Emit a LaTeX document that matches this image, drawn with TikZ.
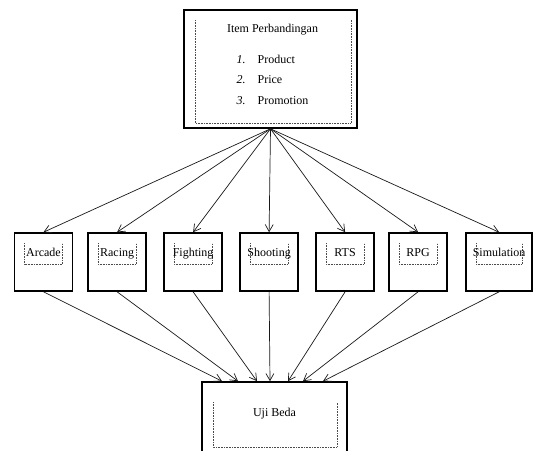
\documentclass[tikz,border=0pt]{standalone}
\usepackage{fontspec}
\setmainfont{Liberation Serif}
\usetikzlibrary{arrows.meta,positioning}

\tikzset{
  dotbox/.style n args={4}{path picture={
      \draw[black!70,densely dotted,line width=0.6pt]
        ([xshift=#1pt,yshift=-#3pt]path picture bounding box.north west) |-
        ([xshift=-#2pt,yshift=#4pt]path picture bounding box.south east) --
        ([xshift=-#2pt,yshift=-#3pt]path picture bounding box.north east);}},
  box/.style={draw,line width=1.6pt,inner sep=0pt,text height=9pt},
  catbox/.style={box,minimum width=58pt,minimum height=58pt,text depth=20pt,
    dotbox={10}{10}{10}{27}},
}

\begin{document}
\begin{tikzpicture}[x=1pt,y=-1pt,>={Straight Barb[length=7pt,width=8pt]},
    font=\fontsize{12}{14.5}\selectfont]
    \clip (0,0) rectangle (535,450);

    \node[box,minimum width=173pt,minimum height=118pt,dotbox={11}{6}{10}{5}] (items) at (270.5,69) {};
    \node[below=15pt of items.north,xshift=2pt,inner sep=0pt,align=center] (itemtext)
      {Item Perbandingan\\[17pt]
       \begin{tabular}{@{}l@{\hspace{12pt}}l@{}}
         \textit{1.} & Product\\[6pt]
         \textit{2.} & Price\\[6pt]
         \textit{3.} & Promotion
       \end{tabular}};

    \node[catbox] (arcade) at (43.5,262) {Arcade};
    \node[catbox] (racing) [right=14pt of arcade] {Racing};
    \node[catbox] (fighting) [right=16.4pt of racing] {Fighting};
    \node[catbox] (shooting) [right=16.4pt of fighting] {Shooting};
    \node[catbox] (rts) [right=16.4pt of shooting] {RTS};
    \node[catbox] (rpg) [right=13.4pt of rts] {RPG};
    \node[catbox,minimum width=66pt] (simulation) [right=17.4pt of rpg] {Simulation};

    \node[box,minimum width=145pt,minimum height=75pt,text depth=16pt,
      dotbox={11}{10}{20}{10}] (uji) at (274.5,419.5) {Uji Beda};

    \path[->,line width=0.7pt,black!90]
    (items.south) edge (arcade.north)
    (items.south) edge (racing.north)
    (items.south) edge (fighting.north)
    (items.south) edge (shooting.north)
    (items.south) edge (rts.north)
    (items.south) edge (rpg.north)
    (items.south) edge (simulation.north)

    (arcade.south) edge ([xshift=-52.5pt]uji.north)
    (racing.south) edge ([xshift=-36.5pt]uji.north)
    (fighting.south) edge ([xshift=-17.5pt]uji.north)
    (shooting.south) edge ([xshift=-4.5pt]uji.north)
    (rts.south) edge ([xshift=13.5pt]uji.north)
    (rpg.south) edge ([xshift=28.5pt]uji.north)
    (simulation.south) edge ([xshift=48.5pt]uji.north)
    ;
\end{tikzpicture}
\end{document}
